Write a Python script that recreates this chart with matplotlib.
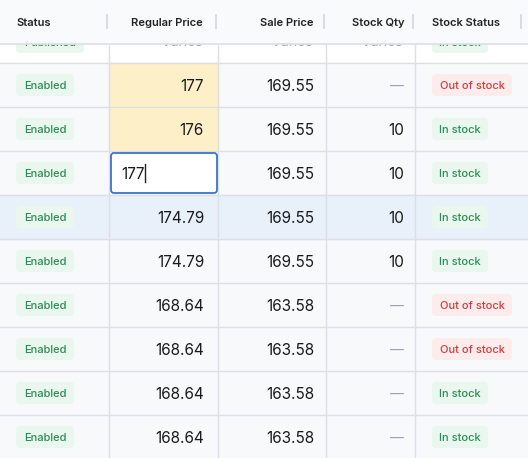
import matplotlib
matplotlib.use("Agg")
import matplotlib.pyplot as plt
from matplotlib.patches import Rectangle, FancyBboxPatch

headers = ["Status", "Regular Price", "Sale Price", "Stock Qty", "Stock Status"]
status = ["Enabled"] * 9
regular = ["177", "176", "177", "174.79", "174.79", "168.64", "168.64", "168.64", "168.64"]
sale = ["169.55", "169.55", "169.55", "169.55", "169.55", "163.58", "163.58", "163.58", "163.58"]
qty = ["—", "10", "10", "10", "10", "—", "—", "—", "—"]
stock = ["Out of stock", "In stock", "In stock", "In stock", "In stock",
         "Out of stock", "Out of stock", "In stock", "In stock"]
edited = [0, 1]
editing = 2
selected = 3

W, H = 528, 458
fig = plt.figure(figsize=(W/100, H/100), dpi=100)
ax = fig.add_axes([0, 0, 1, 1])
ax.set_xlim(0, W); ax.set_ylim(H, 0); ax.axis("off")
plt.rcParams['font.family'] = ['Inter', 'DejaVu Sans']

cols = [0, 109, 218, 326, 415, W]
grid = "#dcdfe4"
ax.add_patch(Rectangle((0, 0), W, H, color="#f8f9fb", zorder=0))
ax.add_patch(Rectangle((0, 43), W, 20, color="white", zorder=0.5))
widths = {"Enabled": 58, "In stock": 56, "Out of stock": 80, "Published": 68}

def badge(x, y, text, good):
    w = widths[text]
    bg, fg = ("#e9f7ee", "#2e8b57") if good else ("#fdecec", "#d7373f")
    ax.add_patch(FancyBboxPatch((x, y - 11), w, 22, boxstyle="round,pad=0,rounding_size=4",
                                fc=bg, ec="none", zorder=2))
    ax.text(x + w / 2, y + 1, text, color=fg, fontsize=8, weight="medium",
            va="center", ha="center", zorder=3)

badge(16, 42, "Published", True)
for xr in (204, 314, 404):
    ax.text(xr, 42, "Varies", color="#9aa3b5", fontsize=10, style="italic", ha="right", va="center", zorder=1)
badge(432, 42, "In stock", True)

top = 63
rh = 44
NUM = dict(fontsize=11, color="#1a1a1a", va="center", zorder=3)
for i in range(len(status)):
    y0 = top + i * rh
    yc = y0 + rh / 2
    yt = yc + 1.5
    if i == selected:
        ax.add_patch(Rectangle((0, y0), W, rh, color="#e8f0fa", zorder=0.6))
    if i in edited:
        ax.add_patch(Rectangle((cols[1], y0), cols[2] - cols[1], rh, color="#fdf0c9", zorder=0.7))
    ax.plot([0, W], [y0, y0], color=grid, lw=1, zorder=1)
    badge(16, yc, status[i], True)
    if i == editing:
        ax.add_patch(FancyBboxPatch((111, y0 + 2), 106, rh - 4, boxstyle="round,pad=0,rounding_size=3",
                                    fc="white", ec="#3b74c6", lw=1.3, zorder=2))
        ax.text(121, yt, regular[i], ha="left", **NUM)
        ax.plot([145, 145], [yc - 9, yc + 9], color="#222", lw=1, zorder=3)
    else:
        ax.text(204, yt, regular[i], ha="right", **NUM)
    ax.text(314, yt, sale[i], ha="right", **NUM)
    if qty[i] == "—":
        ax.text(404, yt, qty[i], fontsize=10, color="#9aa3b5", ha="right", va="center", zorder=3)
    else:
        ax.text(404, yt, qty[i], ha="right", **NUM)
    badge(432, yc, stock[i], stock[i] == "In stock")

for x in cols[1:-1]:
    ax.plot([x, x], [43, H], color=grid, lw=1, zorder=1)

ax.add_patch(Rectangle((0, 0), W, 43, color="#f9fafb", zorder=5))
ax.plot([0, W], [43.5, 43.5], color=grid, lw=1.2, zorder=6)
hx = [16, 203, 314, 404, 432]
ha = ["left", "right", "right", "right", "left"]
for h, x, a in zip(headers, hx, ha):
    ax.text(x, 23, h, fontsize=8, weight="semibold", color="#222", ha=a, va="center", zorder=6)
for x in (107, 216, 324, 413, 521):
    ax.plot([x, x], [15, 28], color="#d5d8dd", lw=1.3, zorder=6)

fig.savefig("out.png", dpi=100)
